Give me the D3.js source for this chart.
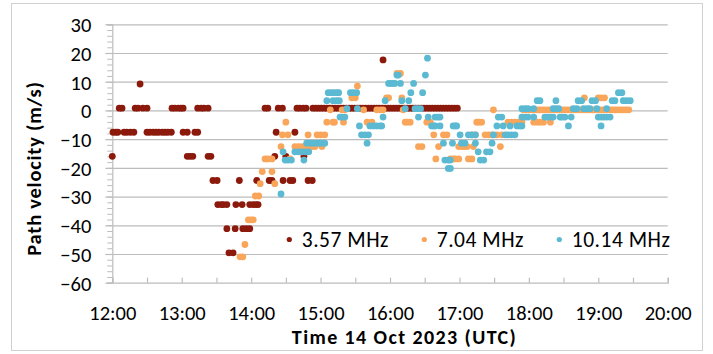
<!DOCTYPE html>
<html><head><meta charset="utf-8">
<script src="https://cdn.jsdelivr.net/npm/d3@7"></script>
<style>
body{margin:0;background:#fff}
svg text{font-family:Carlito, Lato, "Open Sans", sans-serif;fill:#000}
</style>
</head><body>
<svg id="chart" width="713" height="354"></svg>
<script>
// ---- data ----
const seriesNames = ["3.57 MHz", "7.04 MHz", "10.14 MHz"];
const xTickLabels = ["12:00","13:00","14:00","15:00","16:00","17:00","18:00","19:00","20:00"];
const yTickValues = [30,20,10,0,-10,-20,-30,-40,-50,-60];
// each row: [velocity m/s, [times in decimal hours UTC]]
const mhz357 = [
 [17.6, [15.90]],
 [9.2, [12.40]],
 [0.8, [12.10,12.14,12.33,12.37,12.44,12.50,12.86,12.90,12.95,12.99,13.02,13.23,13.28,13.32,13.38,14.20,14.24,14.39,14.45,14.66,14.70,14.75,14.79,14.89,14.93,14.97,15.01,15.05,15.09,15.13,15.17,15.21,15.25,15.29,15.33,15.37,15.41,15.45,15.49,15.53,15.57,15.61,15.65,15.69,15.73,15.77,15.81,15.85,15.89,15.93,15.97,16.01,16.05,16.09,16.13,16.17,16.21,16.25,16.29,16.33,16.37,16.41,16.45,16.49,16.53,16.57,16.61,16.65,16.69,16.73,16.77,16.81,16.85,16.89,16.93,16.97]],
 [-7.6, [12.01,12.05,12.08,12.17,12.21,12.26,12.31,12.50,12.54,12.59,12.63,12.67,12.72,12.76,12.80,12.85,13.02,13.08,13.19,13.23,14.36,14.63]],
 [-16, [12.00,13.08,13.12,13.16,13.38,13.42,14.34,14.50,14.76]],
 [-24.4, [13.45,13.51,13.83,14.08,14.26,14.30,14.46,14.56,14.60,14.82,14.88]],
 [-32.8, [13.52,13.57,13.60,13.65,13.78,13.87,13.98,14.03,14.07,14.10]],
 [-41.2, [13.65,13.77,13.88,13.93,13.98]],
 [-49.6, [13.68,13.74]]
];
const mhz704 = [
 [12.9, [16.10,16.15]],
 [8.5, [15.53]],
 [4.4, [15.45,15.50,15.95,15.98,16.17,18.80,19.00,19.04,19.09]],
 [0.2, [15.14,15.31,15.35,15.62,15.81,15.86,15.90,16.19,17.49,17.92,17.96,18.00,18.04,18.08,18.12,18.16,18.20,18.24,18.28,18.32,18.36,18.40,18.44,18.48,18.52,18.56,18.60,18.64,18.68,18.72,18.76,18.80,18.84,18.88,18.92,18.96,19.00,19.04,19.08,19.12,19.16,19.20,19.24,19.28,19.32,19.36,19.40,19.44]],
 [-4.1, [14.50,15.09,15.18,15.20,15.33,15.67,15.74,16.22,16.25,16.29,16.53,16.58,17.25,17.28,17.32,17.70,17.75,17.80,17.85,17.90,18.07,18.12,18.16,18.21,18.31]],
 [-8.5, [14.45,14.53,14.82,14.95,15.00,15.06,16.63,16.77,16.82,17.18,17.23,17.37,17.42,17.47,17.54,17.61]],
 [-12.6, [14.43,14.63,14.68,14.73,14.78,14.82,14.88,14.92,15.02,16.41,16.46,16.70,16.99,17.04,17.08,17.11,17.20,17.59]],
 [-16.9, [14.20,14.24,14.30,14.56,16.66,16.87,16.91,16.94,16.99,17.13,17.18]],
 [-21.3, [14.16,14.30]],
 [-25.5, [14.13,14.34]],
 [-29.8, [14.06,14.11]],
 [-38.1, [13.96,14.00,14.03]],
 [-46.7, [13.91]],
 [-51, [13.84,13.88]]
];
const mhz1014 = [
 [18.2, [16.54]],
 [12.3, [16.10,16.12,16.51]],
 [9.4, [15.98,16.01,16.04,16.07,16.15,16.34]],
 [6.2, [15.11,15.15,15.19,15.23,15.26,15.43,15.47,15.52,16.30,16.47,19.29,19.34]],
 [3.4, [15.09,15.18,15.23,15.27,15.93,16.17,16.27,18.12,18.16,18.39,18.71,18.76,18.91,18.96,19.20,19.24,19.36,19.41,19.46]],
 [0.6, [15.38,15.53,16.22,16.36,16.40,16.44,17.90,17.95,17.99,18.07,18.35,18.39,18.43,18.64,18.69,18.79,18.84,18.88,18.98,19.12]],
 [-2.3, [15.28,15.31,15.35,15.90,16.41,16.55,16.65,16.69,16.72,17.56,17.61,17.90,17.95,17.99,18.07,18.23,18.27,18.31,18.35,18.45,18.48,18.52,18.61,19.00,19.04,19.08,19.12,19.17]],
 [-5.4, [15.56,15.71,15.76,15.81,15.86,15.88,16.60,16.63,16.65,16.72,16.91,16.94,16.96,17.54,17.63,17.73,17.83,17.87,17.90,18.57,19.04]],
 [-8.5, [15.59,15.64,15.69,17.01,17.13,17.18,17.23,17.49,17.66,17.70,17.75,17.80]],
 [-11.4, [14.80,14.85,14.89,14.94,14.98,15.02,15.06,15.67,16.77,16.90,17.03,17.08,17.23,17.47]],
 [-14.4, [14.46,14.63,14.68,14.73,14.78,14.83,17.27,17.39,17.44]],
 [-17.3, [14.49,14.53,14.58,14.76,16.79,16.84,16.87,17.30,17.35]],
 [-20.2, [16.84,16.87]],
 [-29.1, [14.43]]
];
const seriesColors = ["#8c1a0c", "#f9a65b", "#5bb9d2"];

// ---- layout ----
const M = {left: 112.3, right: 667.7, top: 24.3, bottom: 282.7};
const FONT = "Carlito, Lato, sans-serif";
const svg = d3.select("#chart");
svg.append("rect").attr("x",11.5).attr("y",3.5).attr("width",691).attr("height",347)
  .attr("fill","#fff").attr("stroke","#d0d0d0").attr("stroke-width",1);

const hrs = s => { const [h,m] = s.split(":").map(Number); return h + m/60; };
const x = d3.scaleLinear().domain([hrs(xTickLabels[0]), hrs(xTickLabels[xTickLabels.length-1])]).range([M.left, M.right]);
const y = d3.scaleLinear().domain([d3.min(yTickValues), d3.max(yTickValues)]).range([M.bottom, M.top]);

const gridCol = "#bcbcbc";
// gridlines
svg.append("g").attr("transform",`translate(${M.left},0)`)
  .call(d3.axisLeft(y).tickValues(yTickValues.filter(v=>v!==d3.min(yTickValues))).tickSize(-(M.right-M.left)).tickFormat(""))
  .call(g=>{g.select(".domain").remove(); g.selectAll("line").attr("stroke",gridCol).attr("stroke-width",1.2);});

// y minor ticks
const yMinor = d3.range(d3.min(yTickValues), d3.max(yTickValues)+0.01, 2);
svg.append("g").attr("transform",`translate(${M.left},0)`)
  .call(d3.axisLeft(y).tickValues(yMinor).tickSize(5).tickFormat(""))
  .call(g=>{g.select(".domain").attr("stroke",gridCol).attr("stroke-width",1.2); g.selectAll("line").attr("stroke",gridCol).attr("stroke-width",1);});
// y major ticks + labels
svg.append("g").attr("transform",`translate(${M.left},0)`)
  .call(d3.axisLeft(y).tickValues(yTickValues).tickSize(7).tickPadding(14).tickFormat(d3.format("d")))
  .call(g=>{g.select(".domain").remove(); g.selectAll("line").attr("stroke",gridCol).attr("stroke-width",1.2);
    g.selectAll("text").attr("font-size",20.5).attr("dy","0.36em").style("font-family",FONT);});

// x axis
const xHalf = d3.range(x.domain()[0], x.domain()[1]+0.01, 0.5);
svg.append("g").attr("transform",`translate(0,${M.bottom})`)
  .call(d3.axisBottom(x).tickValues(xHalf).tickSize(-5).tickFormat(""))
  .call(g=>{g.select(".domain").attr("stroke",gridCol).attr("stroke-width",1.2); g.selectAll("line").attr("stroke",gridCol).attr("stroke-width",1.2);});
svg.append("g").attr("transform",`translate(0,${M.bottom})`)
  .call(d3.axisBottom(x).tickValues(xTickLabels.map(hrs)).tickSize(0).tickFormat((d,i)=>xTickLabels[i]))
  .call(g=>{g.select(".domain").remove();
    g.selectAll("text").attr("font-size",20.5).attr("y",37.8).attr("dy",0).style("font-family",FONT);});

// axis titles
svg.append("text").attr("x",404.5).attr("y",344).attr("text-anchor","middle")
  .attr("font-size",20).attr("font-weight","bold").attr("letter-spacing",1.4).text("Time 14 Oct 2023 (UTC)");
svg.append("text").attr("transform","translate(40.5,168.5) rotate(-90)").attr("text-anchor","middle")
  .attr("font-size",20.5).attr("font-weight","bold").attr("letter-spacing",0.75).text("Path velocity (m/s)");

// points
const allSeries = [mhz357, mhz704, mhz1014];
allSeries.forEach((rows, si) => {
  const pts = rows.flatMap(([v, ts]) => ts.map(t => ({t, v})));
  svg.append("g").selectAll("circle").data(pts).join("circle")
    .attr("cx", d => x(d.t)).attr("cy", d => y(d.v)).attr("r", 3.4)
    .attr("fill", seriesColors[si]);
});

// legend
const legX = [289.3, 424.3, 559.3];
const lg = svg.append("g");
seriesNames.forEach((n, i) => {
  lg.append("circle").attr("cx", legX[i]).attr("cy", 239.5).attr("r", 2.6).attr("fill", seriesColors[i]);
  lg.append("text").attr("x", legX[i] + 12.5).attr("y", 247.3).attr("font-size", 21.5).attr("letter-spacing",0.5).text(n);
});
</script>
</body></html>
